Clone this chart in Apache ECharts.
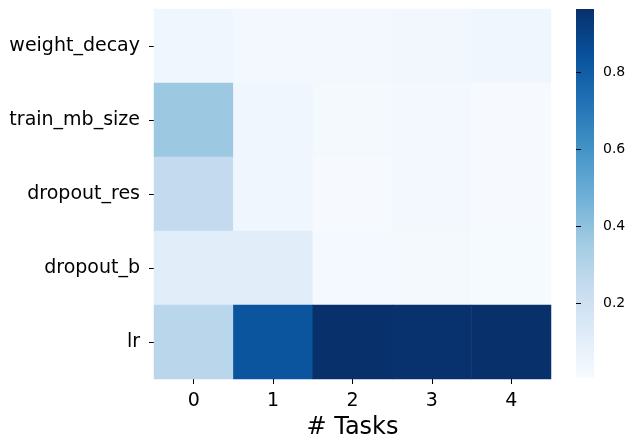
<!DOCTYPE html>
<html>
<head>
<meta charset="utf-8">
<script src="https://cdn.jsdelivr.net/npm/echarts@6/dist/echarts.min.js"></script>
<style>html,body{margin:0;padding:0;background:#fff}#c{width:635px;height:447px}</style>
</head>
<body>
<div id="c"></div>
<script>
const xCategories = ['0', '1', '2', '3', '4'];
const yCategories = ['weight_decay', 'train_mb_size', 'dropout_res', 'dropout_b', 'lr'];
const rowWeightDecay = [0.04, 0.025, 0.03, 0.032, 0.042];
const rowTrainMbSize = [0.37, 0.04, 0.02, 0.025, 0.012];
const rowDropoutRes = [0.25, 0.04, 0.01, 0.028, 0.012];
const rowDropoutB = [0.11, 0.11, 0.022, 0.018, 0.016];
const rowLr = [0.28, 0.83, 0.964, 0.958, 0.962];
const colorbarTicks = [0.2, 0.4, 0.6, 0.8];
const vMin = 0.005, vMax = 0.964;
const blues = ['#f7fbff','#deebf7','#c6dbef','#9ecae1','#6baed6','#4292c6','#2171b5','#08519c','#08306b'];

const rows = [rowWeightDecay, rowTrainMbSize, rowDropoutRes, rowDropoutB, rowLr];
const data = [];
rows.forEach((r, yi) => r.forEach((v, xi) => data.push([xi, yi, v])));

const font = 'DejaVu Sans';
const chart = echarts.init(document.getElementById('c'));
chart.setOption({
  animation: false,
  textStyle: { fontFamily: font },
  grid: [
    { left: 154, top: 9, width: 397, height: 370, containLabel: false, outerBoundsMode: 'none' },
    { left: 576, top: 9, width: 18, height: 369, containLabel: false, outerBoundsMode: 'none' }
  ],
  xAxis: [
    {
      type: 'category', data: xCategories, gridIndex: 0,
      name: '# Tasks', nameLocation: 'middle', nameGap: 36,
      nameTextStyle: { fontSize: 24, color: '#000', fontFamily: font },
      axisLine: { show: false },
      axisTick: { show: true, alignWithLabel: true, length: 5, lineStyle: { color: '#000', width: 1 } },
      axisLabel: { fontSize: 19, color: '#000', margin: 13, fontFamily: font },
      splitLine: { show: false }
    },
    { type: 'value', gridIndex: 1, show: false }
  ],
  yAxis: [
    {
      type: 'category', data: yCategories, gridIndex: 0, inverse: true,
      axisLine: { show: false },
      axisTick: { show: true, alignWithLabel: true, length: 5, lineStyle: { color: '#000', width: 1 } },
      axisLabel: { fontSize: 19, color: '#000', margin: 14, fontFamily: font },
      splitLine: { show: false }
    },
    {
      type: 'value', gridIndex: 1, min: vMin, max: vMax, position: 'right',
      axisLine: { show: false },
      axisTick: { show: true, inside: false, length: 5, customValues: colorbarTicks, lineStyle: { color: '#000', width: 1 } },
      axisLabel: { fontSize: 14, color: '#000', margin: 9, customValues: colorbarTicks, formatter: v => v.toFixed(1), fontFamily: font },
      splitLine: { show: false }
    }
  ],
  visualMap: {
    type: 'continuous', min: vMin, max: vMax, seriesIndex: 0, show: false,
    inRange: { color: blues }
  },
  graphic: [{
    type: 'rect', left: 576, top: 9, z: -1,
    shape: { width: 18, height: 369 },
    style: {
      fill: new echarts.graphic.LinearGradient(0, 1, 0, 0,
        blues.map((c, i) => ({ offset: i / (blues.length - 1), color: c })))
    },
    silent: true
  }],
  series: [{
    type: 'heatmap', xAxisIndex: 0, yAxisIndex: 0, data: data,
    itemStyle: { borderWidth: 0 },
    emphasis: { disabled: true }
  }]
});
</script>
</body>
</html>
